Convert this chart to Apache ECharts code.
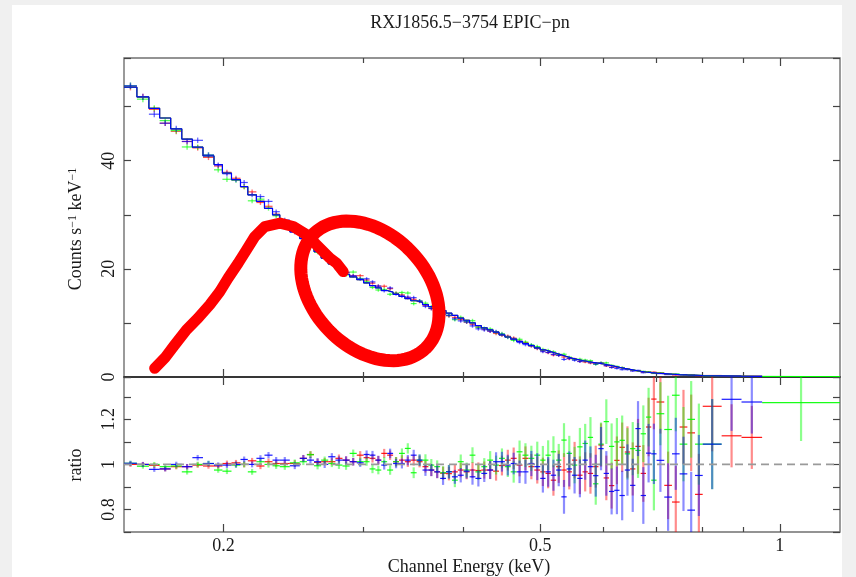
<!DOCTYPE html>
<html><head><meta charset="utf-8">
<script src="https://cdn.jsdelivr.net/npm/echarts@6/dist/echarts.min.js"></script>
<style>
html,body{margin:0;padding:0;background:#f0f0f0;}
#sheet{position:absolute;left:12px;top:5px;width:830px;height:572px;background:#fff;}
#chart{position:absolute;left:0;top:0;width:856px;height:577px;}
</style></head><body>
<div id="sheet"></div><div id="chart"></div>
<script>
// ---------- data ----------
const energyEdges = [0.150,0.1557,0.1612,0.1663,0.1717,0.1773,0.1828,0.1885,0.1946,0.1994,0.2047,0.2101,0.2146,0.2200,0.2252,0.2305,0.2354,0.2423,
 0.2494,0.2546,0.2599,0.2653,0.2708,0.2765,0.2822,0.2881,0.2941,
 0.300,0.3052,0.3104,0.3157,0.3211,0.3267,0.3323,0.3380,0.3438,0.3497,0.3557,0.3618,0.3680,0.3743,0.3807,0.3873,0.3939,0.4007,0.4076,0.4145,0.4217,0.4289,0.4363,0.4438,0.4514,0.4591,0.4670,0.4750,0.4832,0.4915,
 0.500,0.5077,0.5155,0.5235,0.5315,0.5397,0.5480,0.5565,0.5651,0.5738,0.5826,0.5916,0.6007,0.6100,0.6194,0.6289,0.6386,0.6484,0.6584,0.6686,0.6789,0.6893,
 0.700,0.7158,0.7319,0.7483,0.7652,0.7824,
 0.800,0.845,0.895,0.950,1.190];

const modelCounts = [53.6,51.8,49.7,47.9,45.9,44.0,42.5,40.9,39.3,37.7,36.5,35.2,33.7,32.5,31.2,30.0,28.5,26.9,
 25.6,24.4,23.2,22.0,20.9,19.9,19.0,18.5,18.0,
 17.4,16.9,16.5,16.0,15.7,15.3,14.9,14.5,14.1,13.8,13.4,13.0,12.7,12.3,11.8,11.4,10.9,10.5,10.0,9.5,9.1,8.7,8.3,7.8,7.4,7.0,6.6,6.2,5.8,5.4,
 5.0,4.7,4.4,4.1,3.8,3.5,3.25,3.05,2.87,2.7,2.55,2.4,2.2,2.0,1.78,1.58,1.4,1.22,1.06,0.92,0.8,0.7,
 0.62,0.52,0.44,0.38,0.33,0.28,
 0.22,0.16,0.12,0.07];

const ratioRed = [1.0,1.0,0.996,0.98,0.99,0.99,0.997,0.993,0.993,1.004,1.007,1.0,1.016,0.993,1.012,1.004,1.004,1.004,
 1.027,1.044,1.009,1.012,1.012,1.027,1.019,1.012,1.041,
 1.03,1.027,1.019,1.049,1.041,1.012,1.019,1.012,1.019,1.012,0.99,0.975,0.967,0.961,0.959,0.967,0.975,0.967,0.975,0.973,0.975,0.975,0.97,0.995,1.019,1.027,0.997,1.027,0.99,0.975,
 0.967,0.96,0.93,0.99,0.975,0.967,1.019,0.952,0.967,0.96,0.99,1.086,0.94,0.906,1.018,1.076,1.055,0.98,1.08,0.96,1.166,1.29,
 1.277,0.907,0.833,1.166,1.14,0.867,
 1.258,1.127,1.12,null];

const ratioGreen = [1.005,0.992,1.0,0.99,0.993,0.967,1.0,1.004,0.975,0.97,0.997,1.0,0.967,1.012,1.0,0.994,0.99,1.007,
 1.012,1.043,0.994,1.019,1.004,0.997,0.993,1.049,1.012,
 1.012,0.98,0.975,1.012,0.975,1.012,1.049,1.071,0.963,1.019,1.019,0.997,0.99,0.963,0.968,0.93,1.012,0.975,1.041,0.967,0.99,1.019,0.997,1.027,0.99,0.967,1.056,1.041,1.027,1.041,
 1.019,1.041,1.056,1.019,1.108,1.049,0.997,1.078,1.093,1.12,0.914,1.09,1.19,1.08,1.1,1.107,1.047,1.07,1.062,1.136,1.21,0.93,
 1.225,1.155,1.307,1.09,1.2,1.09,
 1.09,null,null,1.274];

const ratioBlue = [1.005,1.0,0.978,0.98,1.0,0.99,1.03,1.004,0.997,0.997,1.0,1.022,1.0,1.027,1.041,1.019,1.019,0.994,
 1.027,1.019,1.012,1.0,1.034,1.019,1.019,1.012,1.007,
 1.044,1.041,1.019,0.997,1.049,1.004,1.004,1.019,1.041,1.019,0.975,0.975,0.967,0.938,0.967,0.945,0.952,0.97,0.945,0.938,0.96,0.975,1.012,1.012,0.997,1.004,0.967,0.967,1.004,0.99,
 0.938,0.967,0.952,0.975,0.856,0.98,0.952,0.938,1.019,0.99,0.95,1.07,0.96,0.88,0.885,0.862,0.975,0.907,1.159,0.862,1.05,1.047,
 1.018,0.855,1.047,0.958,0.797,0.951,
 1.09,1.289,1.277,null];

const ratioErr = [0.011,0.011,0.011,0.011,0.012,0.012,0.012,0.012,0.012,0.013,0.013,0.013,0.013,0.014,0.014,0.014,0.014,0.015,
 0.015,0.015,0.016,0.016,0.016,0.017,0.017,0.017,0.018,
 0.018,0.019,0.019,0.020,0.021,0.021,0.022,0.023,0.024,0.025,0.026,0.027,0.028,0.029,0.030,0.031,0.032,0.033,0.035,0.036,0.038,0.040,0.042,0.044,0.046,0.048,0.050,0.053,0.056,0.060,
 0.063,0.066,0.069,0.072,0.075,0.078,0.081,0.084,0.087,0.090,0.093,0.096,0.099,0.102,0.106,0.110,0.114,0.118,0.122,0.126,0.130,0.134,
 0.14,0.15,0.16,0.165,0.17,0.18,
 0.2,0.14,0.14,0.17];

const energyMajorTicks = [0.2, 0.5, 1];
const energyTickLabels = ['0.2', '0.5', '1'];
const energyMinorTicks = [0.3, 0.4, 0.6, 0.7, 0.8, 0.9];
const countTickLabels = [0, 20, 40];
const ratioTickLabels = [0.8, 1, 1.2];

// hand-drawn red annotation, in data coordinates (energy keV, counts)
const annotationE = [0.1639,0.1688,0.1737,0.1797,0.1858,0.1922,0.1979,0.2027,0.2087,0.2138,0.2190,0.2254,0.2355,0.2447,0.2544,0.2643,0.2721,0.2774,0.2828];
const annotationC = [1.61,3.52,5.93,8.70,10.87,13.33,15.8,18.28,21.06,23.52,25.98,27.83,28.46,27.83,26.30,23.83,21.98,21.06,19.5];
const ellipseCenter = [0.3055, 15.93];

// ---------- chart ----------
const E_MIN = 0.15, E_MAX = 1.19;
const FONT = '"Liberation Serif", "Times New Roman", serif';
const TXT = '#1a1a1a';
const TICK = '#444';
const nb = modelCounts.length;
const L = Math.log10;

function crossData(ratio, scaled) {
  const out = [];
  for (let i = 0; i < nb; i++) {
    if (ratio[i] == null) continue;
    const k = scaled ? modelCounts[i] : 1;
    out.push([energyEdges[i], energyEdges[i + 1], ratio[i] * k, ratioErr[i] * k]);
  }
  return out;
}
function stepData(ratio) {
  let last = nb - 1;
  while (last > 0 && ratio[last] == null) last--;
  const d = [];
  for (let i = 0; i <= last; i++) d.push([energyEdges[i], modelCounts[i]]);
  d.push([energyEdges[last + 1], modelCounts[last]]);
  return d;
}
function makeCross(color, hOp, vOp, vW) {
  return function (params, api) {
    const lo = api.value(0), hi = api.value(1), y = api.value(2), e = api.value(3);
    const cs = params.coordSys;
    const top = cs.y, bot = cs.y + cs.height;
    const clampY = v => Math.max(top, Math.min(bot, v));
    const a = api.coord([lo, y]), b = api.coord([hi, y]);
    const xc = api.coord([Math.sqrt(lo * hi), y])[0];
    const t = clampY(api.coord([lo, y + e])[1]);
    const bt = clampY(api.coord([lo, y - e])[1]);
    const ch = [];
    if (bt - t > 0.3) ch.push({type: 'line', shape: {x1: xc, y1: t, x2: xc, y2: bt}, style: {stroke: color, lineWidth: vW, opacity: vOp}});
    if (a[1] >= top && a[1] <= bot) ch.push({type: 'line', shape: {x1: a[0], y1: a[1], x2: b[0], y2: b[1]}, style: {stroke: color, lineWidth: 1.2, opacity: hOp}});
    return {type: 'group', children: ch};
  };
}
function tickAxis(grid, pos, vals, len, withLabels, lineOpt) {
  const lv = vals.map(L);
  return {
    type: 'value', gridIndex: grid, position: pos, min: L(E_MIN), max: L(E_MAX),
    axisLine: lineOpt ? {show: true, onZero: false, lineStyle: lineOpt} : {show: false, onZero: false},
    splitLine: {show: false},
    axisTick: {show: true, inside: true, length: len, customValues: lv, lineStyle: {color: TICK, width: 1.2}},
    axisLabel: withLabels ? {
      show: true, customValues: lv, margin: 5, fontFamily: FONT, fontSize: 18, color: TXT,
      formatter: v => { const i = lv.findIndex(x => Math.abs(x - v) < 1e-6); return i >= 0 ? energyTickLabels[i] : ''; }
    } : {show: false}
  };
}
function yAx(grid, pos, min, max, interval, labels) {
  return {
    type: 'value', gridIndex: grid, position: pos, min, max, interval,
    axisLine: {show: false, onZero: false}, splitLine: {show: false},
    axisTick: {show: true, inside: true, length: 7, lineStyle: {color: TICK, width: 1.2}},
    axisLabel: labels ? {
      show: true, rotate: 90, margin: 6, fontFamily: FONT, fontSize: 18, color: TXT,
      formatter: v => { const m = labels.find(x => Math.abs(x - v) < 1e-6); return m === undefined ? '' : String(m); }
    } : {show: false}
  };
}

const colors = {red: '#ff0000', green: '#00ff00', blue: '#0000ff'};
const sets = [['red', ratioRed], ['green', ratioGreen], ['blue', ratioBlue]];
const series = [];
// top panel model steps (blue drawn last, on top)
sets.forEach(([c, r]) => series.push({
  type: 'line', xAxisIndex: 0, yAxisIndex: 0, step: 'end', symbol: 'none', data: stepData(r),
  lineStyle: {color: colors[c], width: c === 'blue' ? 1.2 : 1.0}, z: c === 'blue' ? 4 : 3, silent: true
}));
// top panel data crosses
sets.forEach(([c, r]) => series.push({
  type: 'custom', xAxisIndex: 0, yAxisIndex: 0, data: crossData(r, true),
  encode: {x: [0, 1], y: [2]}, renderItem: makeCross(colors[c], 0.7, 0.55, 1.4), z: 2, silent: true
}));
// ratio panel crosses
sets.forEach(([c, r]) => series.push({
  type: 'custom', xAxisIndex: 1, yAxisIndex: 2, data: crossData(r, false),
  encode: {x: [0, 1], y: [2]}, renderItem: makeCross(colors[c], 0.9, 0.45, 2.2), z: 2, silent: true
}));
// ratio = 1 reference
series.push({
  type: 'line', xAxisIndex: 1, yAxisIndex: 2, symbol: 'none', data: [[E_MIN, 1], [E_MAX, 1]],
  lineStyle: {color: '#9a9a9a', width: 1.6, type: [8, 5]}, z: 5, silent: true
});
// red hand-drawn annotation
series.push({
  type: 'line', xAxisIndex: 0, yAxisIndex: 0, symbol: 'none',
  data: annotationE.map((e, i) => [e, annotationC[i]]),
  lineStyle: {color: '#ff0000', width: 11, cap: 'round', join: 'round'}, z: 20, silent: true
});
series.push({
  type: 'custom', xAxisIndex: 0, yAxisIndex: 0, data: [ellipseCenter], z: 21, silent: true,
  renderItem: function (params, api) {
    const c = api.coord([api.value(0), api.value(1)]);
    const ra = 80, rb = 57, phi = 0.8;
    const pts = [];
    for (let k = 0; k < 96; k++) {
      const t = k / 96 * Math.PI * 2;
      const ex = ra * Math.cos(t), ey = rb * Math.sin(t);
      pts.push([c[0] + ex * Math.cos(phi) - ey * Math.sin(phi), c[1] + ex * Math.sin(phi) + ey * Math.cos(phi)]);
    }
    return {type: 'polygon', shape: {points: pts}, style: {fill: 'none', stroke: '#ff0000', lineWidth: 13}};
  }
});

const gridStyle = {show: true, borderColor: '#707070', borderWidth: 1.4, backgroundColor: 'transparent'};
const option = {
  animation: false,
  grid: [
    Object.assign({left: 124, right: 16, top: 58, height: 319}, gridStyle),
    Object.assign({left: 124, right: 16, top: 377, height: 155}, gridStyle)
  ],
  xAxis: [
    {type: 'log', gridIndex: 0, min: E_MIN, max: E_MAX, show: false},
    {type: 'log', gridIndex: 1, min: E_MIN, max: E_MAX, show: false},
    tickAxis(0, 'bottom', energyMajorTicks, 8, false, {color: '#222', width: 1.6}),
    tickAxis(0, 'bottom', energyMinorTicks, 5, false),
    tickAxis(0, 'top', energyMajorTicks, 8, false),
    tickAxis(0, 'top', energyMinorTicks, 5, false),
    tickAxis(1, 'bottom', energyMajorTicks, 8, true),
    tickAxis(1, 'bottom', energyMinorTicks, 5, false),
    tickAxis(1, 'top', energyMajorTicks, 8, false),
    tickAxis(1, 'top', energyMinorTicks, 5, false)
  ],
  yAxis: [
    yAx(0, 'left', 0, 59, 10, countTickLabels),
    yAx(0, 'right', 0, 59, 10, null),
    yAx(1, 'left', 0.7, 1.388, 0.1, ratioTickLabels),
    yAx(1, 'right', 0.7, 1.388, 0.1, null)
  ],
  graphic: [
    {type: 'text', x: 470, y: 23, style: {text: 'RXJ1856.5\u22123754 EPIC\u2212pn', font: '18px ' + FONT, fill: TXT, align: 'center', verticalAlign: 'middle', textAlign: 'center', textVerticalAlign: 'middle'}},
    {type: 'text', x: 469, y: 567, style: {text: 'Channel Energy (keV)', font: '18px ' + FONT, fill: TXT, align: 'center', verticalAlign: 'middle', textAlign: 'center', textVerticalAlign: 'middle'}},
    {type: 'text', x: 76, y: 465, rotation: Math.PI / 2, style: {text: 'ratio', font: '18px ' + FONT, fill: TXT, align: 'center', verticalAlign: 'middle', textAlign: 'center', textVerticalAlign: 'middle'}},
    {type: 'text', x: 76, y: 229, rotation: Math.PI / 2, style: {
      text: '{a|Counts s}{b|\u22121}{a| keV}{b|\u22121}', align: 'center', verticalAlign: 'middle', textAlign: 'center', textVerticalAlign: 'middle',
      rich: {a: {fontFamily: FONT, fontSize: 18, fill: TXT, color: TXT, verticalAlign: 'bottom'}, b: {fontFamily: FONT, fontSize: 12, fill: TXT, color: TXT, verticalAlign: 'top'}}
    }}
  ],
  series
};
const chart = echarts.init(document.getElementById('chart'));
chart.setOption(option);
</script>
</body></html>
